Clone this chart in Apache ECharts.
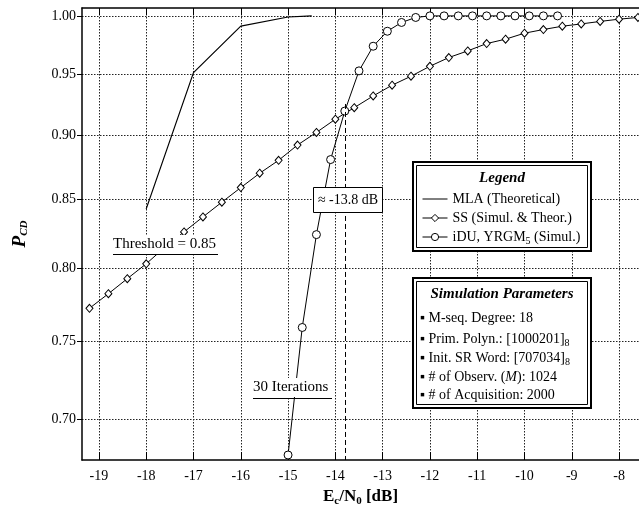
<!DOCTYPE html>
<html>
<head>
<meta charset="utf-8">
<script src="https://cdn.jsdelivr.net/npm/echarts@6/dist/echarts.min.js"></script>
<style>
    html, body { margin: 0; padding: 0; background: #fff; }
    #chart { width: 639px; height: 516px; }
</style>
</head>
<body>
<div id="chart"></div>
<script>
    // axis ticks
    var xTicks = [-19, -18, -17, -16, -15, -14, -13, -12, -11, -10, -9, -8];
    var yTicks = [0.70, 0.75, 0.80, 0.85, 0.90, 0.95, 1.00];

    // MLA (Theoretical)
    var mlaX = [-18, -17, -16, -15, -14.5];
    var mlaP = [0.843, 0.951, 0.991, 0.999, 1.0];

    // SS (Simul. & Theor.)
    var ssX = [-19.2, -18.8, -18.4, -18.0, -17.6, -17.2, -16.8, -16.4, -16.0, -15.6,
               -15.2, -14.8, -14.4, -14.0, -13.6, -13.2, -12.8, -12.4, -12.0, -11.6,
               -11.2, -10.8, -10.4, -10.0, -9.6, -9.2, -8.8, -8.4, -8.0, -7.6];
    var ssP = [0.772, 0.782, 0.7925, 0.803, 0.815, 0.826, 0.837, 0.848, 0.859, 0.870,
               0.880, 0.892, 0.902, 0.9126, 0.922, 0.9316, 0.9405, 0.948, 0.9564, 0.9638,
               0.9695, 0.9758, 0.9796, 0.9848, 0.988, 0.9909, 0.9929, 0.9951, 0.9971, 0.9986];

    // iDU, YRGM5 (Simul.)
    var iduX = [-15.0, -14.7, -14.4, -14.1, -13.8, -13.5, -13.2, -12.9, -12.6, -12.3,
                -12.0, -11.7, -11.4, -11.1, -10.8, -10.5, -10.2, -9.9, -9.6, -9.3];
    var iduP = [0.678, 0.759, 0.824, 0.8806, 0.9192, 0.9525, 0.9735, 0.9865, 0.9942, 0.9986,
                1, 1, 1, 1, 1, 1, 1, 1, 1, 1];

    var crossX = -13.8;

    var serif = "'Liberation Serif', 'Times New Roman', serif";
    var hollow = { color: '#fff', borderColor: '#000', borderWidth: 1 };

    function pairs(xs, ys) {
        return xs.map(function (x, i) { return [x, ys[i]]; });
    }

    var xMin = -19.358, xMax = -7.578;

    var chart = echarts.init(document.getElementById('chart'));
    chart.setOption({
        animation: false,
        textStyle: { fontFamily: serif, color: '#000' },
        grid: { left: 82, top: 8, right: -2, bottom: 56 },
        xAxis: [{
            type: 'value', min: xMin, max: xMax,
            axisLine: { lineStyle: { color: '#000', width: 1.5 } },
            axisTick: { inside: true, length: 8, customValues: xTicks, lineStyle: { color: '#000' } },
            axisLabel: { customValues: xTicks, color: '#000', fontFamily: serif, fontSize: 14, margin: 9 },
            splitLine: { show: true, lineStyle: { color: '#222', type: [1.5, 1.5] } },
            name: '{b|E}{s|c}{b|/N}{s|0}{b| [dB]}',
            nameLocation: 'middle', nameGap: 22,
            nameTextStyle: {
                rich: {
                    b: { fontFamily: serif, fontSize: 17, fontWeight: 'bold', color: '#000' },
                    s: { fontFamily: serif, fontSize: 11, fontWeight: 'bold', color: '#000', padding: [9, 0, 0, 0] }
                }
            }
        }, {
            type: 'value', min: xMin, max: xMax, position: 'top',
            axisLine: { lineStyle: { color: '#000', width: 1.5 } },
            axisTick: { inside: true, length: 7, customValues: xTicks, lineStyle: { color: '#000' } },
            axisLabel: { show: false },
            splitLine: { show: false }
        }],
        yAxis: {
            type: 'log', logBase: 10, min: 0.675, max: 1.007,
            axisLine: { show: true, lineStyle: { color: '#000', width: 1.5 } },
            axisTick: { show: true, length: 5, customValues: yTicks, lineStyle: { color: '#000' } },
            axisLabel: {
                customValues: yTicks, color: '#000', fontFamily: serif, fontSize: 14, margin: 6,
                formatter: function (v) { return Number(v).toFixed(2); }
            },
            splitLine: { show: true, lineStyle: { color: '#222', type: [1.5, 1.5] } },
            name: '{p|P}{s|CD}',
            nameLocation: 'middle', nameGap: 52, nameRotate: 90,
            nameTextStyle: {
                rich: {
                    p: { fontFamily: serif, fontSize: 19, fontWeight: 'bold', fontStyle: 'italic', color: '#000' },
                    s: { fontFamily: serif, fontSize: 11, fontWeight: 'bold', fontStyle: 'italic', color: '#000', padding: [9, 0, 0, 0] }
                }
            }
        },
        legend: {
            orient: 'vertical', left: 422, top: 191, padding: 0,
            itemWidth: 25, itemHeight: 9, itemGap: 3,
            selectedMode: false, z: 10,
            lineStyle: { width: 1, color: '#000' },
            textStyle: {
                fontFamily: serif, fontSize: 14, color: '#000', lineHeight: 16,
                rich: {
                    n: { fontFamily: serif, fontSize: 14, color: '#000' },
                    s: { fontFamily: serif, fontSize: 10, color: '#000', padding: [8, 0, 0, 0] }
                }
            },
            formatter: function (name) {
                if (name === 'iDU, YRGM5 (Simul.)') return '{n|iDU, YRGM}{s|5}{n| (Simul.)}';
                return name;
            },
            data: [
                { name: 'MLA (Theoretical)', itemStyle: { opacity: 0 } },
                { name: 'SS (Simul. & Theor.)', itemStyle: hollow },
                { name: 'iDU, YRGM5 (Simul.)', itemStyle: hollow }
            ]
        },
        series: [{
            name: 'MLA (Theoretical)', type: 'line', symbol: 'none',
            lineStyle: { color: '#000', width: 1.2 },
            itemStyle: { color: '#000' },
            data: pairs(mlaX, mlaP)
        }, {
            name: 'SS (Simul. & Theor.)', type: 'line', symbol: 'diamond', symbolSize: [7, 8],
            lineStyle: { color: '#000', width: 1 },
            itemStyle: hollow,
            data: pairs(ssX, ssP)
        }, {
            name: 'iDU, YRGM5 (Simul.)', type: 'line', symbol: 'circle', symbolSize: 8,
            lineStyle: { color: '#000', width: 1 },
            itemStyle: hollow,
            data: pairs(iduX, iduP),
            markLine: {
                silent: true, symbol: ['none', 'none'],
                label: { show: false },
                lineStyle: { color: '#000', width: 1, type: [5, 3] },
                data: [[{ coord: [crossX, 0.925] }, { coord: [crossX, 0.675] }]]
            }
        }],
        graphic: [
            // legend box
            { type: 'rect', z: 5, shape: { x: 413, y: 162, width: 178, height: 89 }, style: { fill: '#fff', stroke: '#000', lineWidth: 2 } },
            { type: 'rect', z: 6, shape: { x: 416.5, y: 165.5, width: 171, height: 82 }, style: { fill: 'none', stroke: '#000', lineWidth: 1 } },
            { type: 'text', z: 7, x: 502, y: 178, style: { text: 'Legend', fontFamily: serif, fontSize: 15, fontWeight: 'bold', fontStyle: 'italic', fill: '#000', align: 'center', verticalAlign: 'middle' } },

            // simulation parameters box
            { type: 'rect', z: 5, shape: { x: 413, y: 278, width: 178, height: 130 }, style: { fill: '#fff', stroke: '#000', lineWidth: 2 } },
            { type: 'rect', z: 6, shape: { x: 416.5, y: 281.5, width: 171, height: 123 }, style: { fill: 'none', stroke: '#000', lineWidth: 1 } },
            { type: 'text', z: 7, x: 502, y: 294, style: { text: 'Simulation Parameters', fontFamily: serif, fontSize: 15, fontWeight: 'bold', fontStyle: 'italic', fill: '#000', align: 'center', verticalAlign: 'middle' } },
            { type: 'text', z: 7, x: 420, y: 318, style: { text: '\u25AA M-seq. Degree: 18', fontFamily: serif, fontSize: 14, fill: '#000', verticalAlign: 'middle' } },
            { type: 'text', z: 7, x: 420, y: 339, style: {
                text: '{n|\u25AA Prim. Polyn.: [1000201]}{s|8}', verticalAlign: 'middle',
                rich: { n: { fontFamily: serif, fontSize: 14, fill: '#000' }, s: { fontFamily: serif, fontSize: 10, fill: '#000', padding: [8, 0, 0, 0] } } } },
            { type: 'text', z: 7, x: 420, y: 358, style: {
                text: '{n|\u25AA Init. SR Word: [707034]}{s|8}', verticalAlign: 'middle',
                rich: { n: { fontFamily: serif, fontSize: 14, fill: '#000' }, s: { fontFamily: serif, fontSize: 10, fill: '#000', padding: [8, 0, 0, 0] } } } },
            { type: 'text', z: 7, x: 420, y: 377, style: {
                text: '{n|\u25AA # of Observ. (}{i|M}{n|): 1024}', verticalAlign: 'middle',
                rich: { n: { fontFamily: serif, fontSize: 14, fill: '#000' }, i: { fontFamily: serif, fontSize: 14, fontStyle: 'italic', fill: '#000' } } } },
            { type: 'text', z: 7, x: 420, y: 395, style: { text: '\u25AA # of Acquisition: 2000', fontFamily: serif, fontSize: 14, fill: '#000', verticalAlign: 'middle' } },

            // threshold note
            { type: 'rect', z: 10, shape: { x: 111, y: 235, width: 109, height: 19 }, style: { fill: '#fff' } },
            { type: 'text', z: 11, x: 113, y: 244, style: { text: 'Threshold = 0.85', fontFamily: serif, fontSize: 15, fill: '#000', verticalAlign: 'middle' } },
            { type: 'line', z: 11, shape: { x1: 113, y1: 254.5, x2: 218, y2: 254.5 }, style: { stroke: '#000', lineWidth: 1 } },

            // iterations note
            { type: 'rect', z: 10, shape: { x: 251, y: 378, width: 83, height: 19 }, style: { fill: '#fff' } },
            { type: 'text', z: 11, x: 253, y: 387, style: { text: '30 Iterations', fontFamily: serif, fontSize: 15, fill: '#000', verticalAlign: 'middle' } },
            { type: 'line', z: 11, shape: { x1: 253, y1: 398.5, x2: 332, y2: 398.5 }, style: { stroke: '#000', lineWidth: 1 } },

            // crossing point note
            { type: 'rect', z: 10, shape: { x: 313.5, y: 187.5, width: 69, height: 25 }, style: { fill: '#fff', stroke: '#000', lineWidth: 1 } },
            { type: 'text', z: 11, x: 348, y: 200, style: { text: '\u2248 -13.8 dB', fontFamily: serif, fontSize: 14, fill: '#000', align: 'center', verticalAlign: 'middle' } }
        ]
    });
</script>
</body>
</html>
